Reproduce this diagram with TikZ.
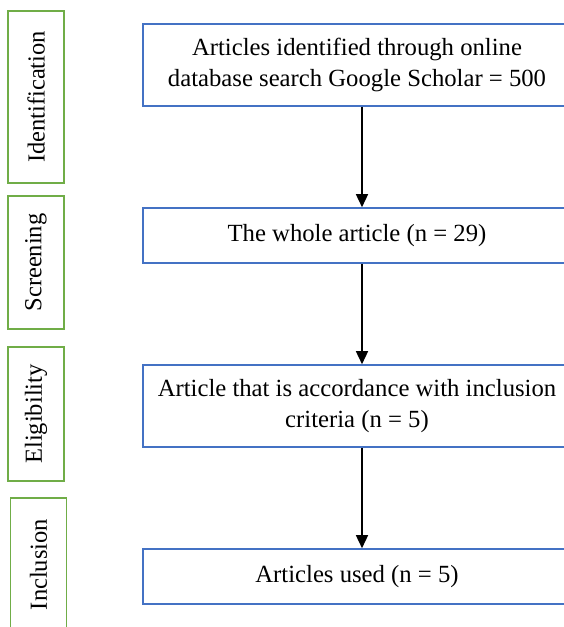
\documentclass[tikz,border=0pt]{standalone}
\usepackage{fontspec}
\setmainfont{Liberation Serif}
\usetikzlibrary{arrows.meta}
\definecolor{bluebox}{HTML}{4472C4}
\definecolor{greenbox}{HTML}{70AD47}
\begin{document}
\begin{tikzpicture}[x=1pt,y=-1pt,
  mainbox/.style={draw=bluebox, line width=1.6pt, minimum width=428pt, align=center, inner sep=0pt,
    font=\fontsize{24.7}{31}\selectfont},
  stagebox/.style={draw=greenbox, line width=1.6pt, rotate=90, minimum height=56pt, inner sep=0pt,
    font=\fontsize{24.5}{28}\selectfont},
  flow/.style={-{Triangle[length=13pt,width=12pt]}, line width=1.5pt, black}]
\useasboundingbox (0,0) rectangle (563,627);
% stage labels
\node[stagebox, minimum width=172pt] (ident) at (36,97) {Identification};
\node[stagebox, minimum width=133pt] (screen) at (36,262.5) {Screening};
\node[stagebox, minimum width=134pt] (elig) at (36,414) {Eligibility};
\node[stagebox, minimum width=133pt] (incl) at (38.5,564.5) {Inclusion};
% main boxes
\node[mainbox, minimum height=82pt] (b1) at (357,65) {Articles identified through online\\database search Google Scholar = 500};
\node[mainbox, minimum height=55pt] (b2) at (357,235.5) {The whole article (n = 29)};
\node[mainbox, minimum height=82pt] (b3) at (357,406) {Article that is accordance with inclusion\\criteria (n = 5)};
\node[mainbox, minimum height=55pt] (b4) at (357,576.5) {Articles used (n = 5)};
% arrows
\draw[flow] (b1.south -| 362,0) -- (b2.north -| 362,0);
\draw[flow] (b2.south -| 362,0) -- (b3.north -| 362,0);
\draw[flow] (b3.south -| 362,0) -- (b4.north -| 362,0);
\end{tikzpicture}
\end{document}
